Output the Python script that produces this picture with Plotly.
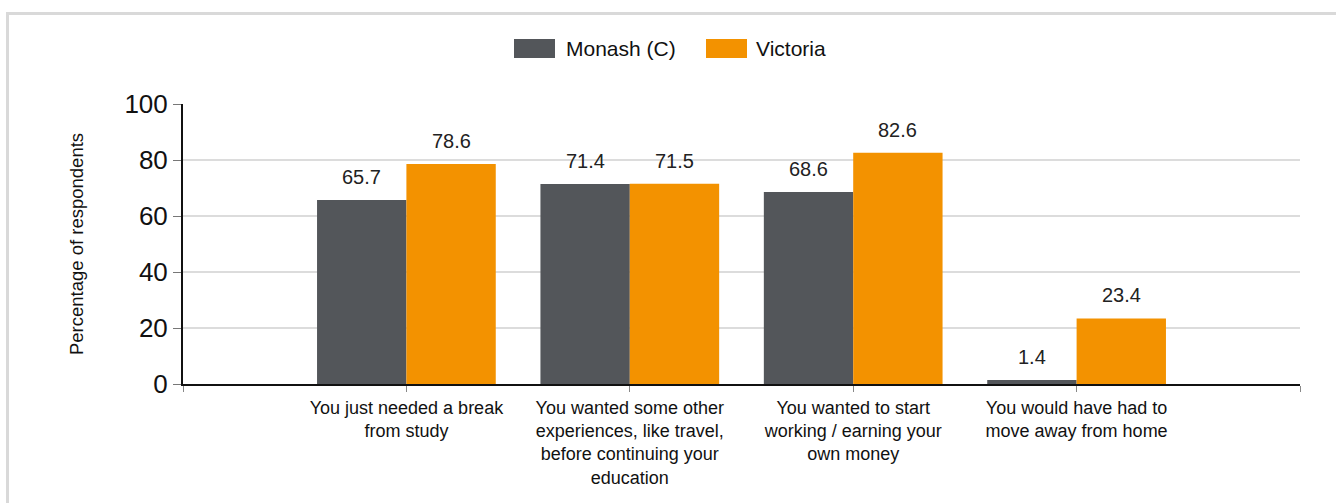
import plotly.graph_objects as go

categories = [
    "You just needed a break<br>from study",
    "You wanted some other<br>experiences, like travel,<br>before continuing your<br>education",
    "You wanted to start<br>working / earning your<br>own money",
    "You would have had to<br>move away from home",
]
series_names = ["Monash (C)", "Victoria"]
monash = [65.7, 71.4, 68.6, 1.4]
victoria = [78.6, 71.5, 82.6, 23.4]
y_ticks = [0, 20, 40, 60, 80, 100]

colors = ["#53565a", "#f39200"]
W, H = 1336, 503
ML, MR, MT, MB = 183, 36, 104, 119
PW, PH = W - ML - MR, H - MT - MB

def px(x):
    return (x - ML) / PW

def py(y):
    return (H - MB - y) / PH

FONT = "Liberation Sans, Arial, sans-serif"
fig = go.Figure()
xs = list(range(len(categories)))
for name, vals, col in zip(series_names, [monash, victoria], colors):
    fig.add_trace(go.Bar(x=xs, y=vals, name=name, marker=dict(color=col, line=dict(width=0)),
                         showlegend=False, hoverinfo="skip"))

ann = []
for k, vals in enumerate([monash, victoria]):
    off = -0.2 if k == 0 else 0.2
    for i, v in enumerate(vals):
        ann.append(dict(x=i + off, y=v, text=f"{v:.1f}", showarrow=False, yanchor="bottom",
                        yshift=10, font=dict(size=20, color="#222222", family=FONT)))

shapes = [
    dict(type="rect", xref="paper", yref="paper", x0=px(7.5), x1=px(1345), y0=py(13.5), y1=py(520),
         line=dict(color="#d9d9d9", width=3), fillcolor="rgba(0,0,0,0)", layer="below"),
]
leg = [(514, 566, series_names[0], colors[0]), (706, 756, series_names[1], colors[1])]
for x0, tx, name, col in leg:
    shapes.append(dict(type="rect", xref="paper", yref="paper", x0=px(x0), x1=px(x0 + 41),
                       y0=py(58), y1=py(39), fillcolor=col, line=dict(width=0)))
    ann.append(dict(xref="paper", yref="paper", x=px(tx), y=py(48.5), text=name, showarrow=False,
                    xanchor="left", yanchor="middle", xshift=-2,
                    font=dict(size=21, color="#111111", family=FONT)))

fig.update_layout(
    width=W, height=H, margin=dict(l=ML, r=MR, t=MT, b=MB),
    paper_bgcolor="white", plot_bgcolor="white",
    barmode="group", bargap=0.2, bargroupgap=0,
    font=dict(family=FONT, color="#111111"),
    annotations=ann, shapes=shapes,
    xaxis=dict(range=[-1, 4], tickvals=[-1, 0, 1, 2, 3, 4],
               ticktext=[""] + categories + [""], ticks="outside", ticklen=6, tickcolor="#888888",
               tickwidth=1, showline=True, linecolor="#111111", linewidth=2, showgrid=False,
               zeroline=False, tickfont=dict(size=18, color="#111111"), fixedrange=True),
    yaxis=dict(range=[0, 100], tickvals=y_ticks, ticks="outside", ticklen=8, tickcolor="#777777",
               showline=True, linecolor="#111111", linewidth=2, showgrid=True, gridcolor="#dcdcdc",
               gridwidth=2, zeroline=False, tickfont=dict(size=26, color="#111111"),
               title=dict(text="Percentage of respondents", font=dict(size=18.5, color="#111111"),
                          standoff=36)),
)
fig.write_html("out.html", config={"displayModeBar": False},
               post_script="document.body.style.margin='0';document.body.style.overflow='hidden';")
